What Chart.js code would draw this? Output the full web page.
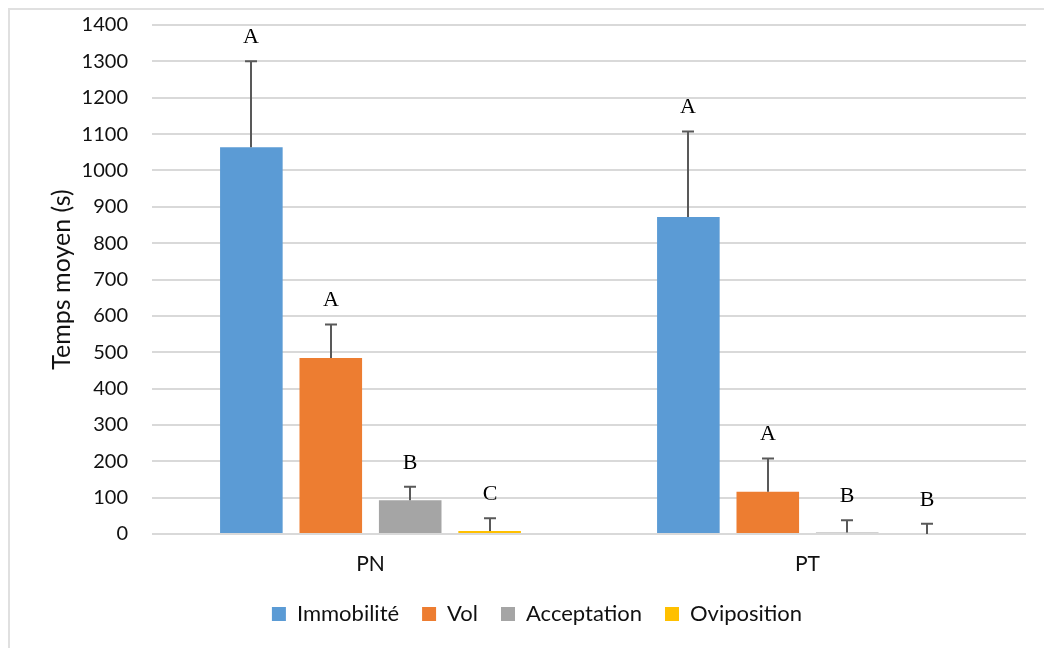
<!DOCTYPE html>
<html lang="fr">
<head>
<meta charset="utf-8">
<title>Temps moyen par comportement</title>
<script src="https://cdn.jsdelivr.net/npm/chart.js@4.4.1/dist/chart.umd.min.js"></script>
<style>
  html, body { margin: 0; padding: 0; background: #ffffff; }
  #wrap { position: relative; width: 1044px; height: 648px; }
  canvas { display: block; }
</style>
</head>
<body>
<div id="wrap"><canvas id="chart" width="1044" height="648"></canvas></div>
<script>
// Categories (plant type) and behaviours
const categories = ['PN', 'PT'];
const seriesNames = ['Immobilité', 'Vol', 'Acceptation', 'Oviposition'];
const seriesColors = ['#5B9BD5', '#ED7D31', '#A5A5A5', '#FFC000'];

// Mean time (s) per behaviour, one value per category
const immobilite = [1064, 872];
const vol = [484, 116];
const acceptation = [93, 4];
const oviposition = [8, 0];

// Upper error bar length (s)
const errImmobilite = [236, 235];
const errVol = [92, 92];
const errAcceptation = [37, 34];
const errOviposition = [35, 28];

// Significance letters above each bar
const lettersImmobilite = ['A', 'A'];
const lettersVol = ['A', 'A'];
const lettersAcceptation = ['B', 'B'];
const lettersOviposition = ['C', 'B'];

// Y axis ticks
const yMin = 0;
const yMax = 1400;
const yStep = 100;
const yTitle = 'Temps moyen (s)';

const seriesValues = [immobilite, vol, acceptation, oviposition];
const seriesErrors = [errImmobilite, errVol, errAcceptation, errOviposition];
const seriesLetters = [lettersImmobilite, lettersVol, lettersAcceptation, lettersOviposition];

const textColor = '#111111';
const baseFont = 'Lato, "Open Sans", "DejaVu Sans", sans-serif';

// Light frame along the top and left edges
const framePlugin = {
  id: 'frame',
  beforeDraw(chart) {
    const ctx = chart.ctx;
    ctx.save();
    ctx.strokeStyle = '#e0e0e0';
    ctx.lineWidth = 2;
    ctx.beginPath();
    ctx.moveTo(9, chart.height);
    ctx.lineTo(9, 9);
    ctx.lineTo(chart.width, 9);
    ctx.stroke();
    ctx.restore();
  }
};

// Upper error bars with caps, plus significance letters
const errorBarPlugin = {
  id: 'errorBars',
  afterDatasetsDraw(chart) {
    const ctx = chart.ctx;
    const yScale = chart.scales.y;
    ctx.save();
    chart.data.datasets.forEach((ds, di) => {
      const meta = chart.getDatasetMeta(di);
      meta.data.forEach((bar, i) => {
        const v = ds.data[i];
        const e = ds.errorPlus[i];
        const x = Math.round(bar.x);
        const yBase = yScale.getPixelForValue(v);
        const yTop = yScale.getPixelForValue(v + e);
        ctx.strokeStyle = '#595959';
        ctx.lineWidth = 2;
        ctx.beginPath();
        ctx.moveTo(x, yBase);
        ctx.lineTo(x, yTop);
        ctx.moveTo(x - 6, yTop);
        ctx.lineTo(x + 6, yTop);
        ctx.stroke();

        ctx.fillStyle = '#000000';
        ctx.font = '22px "Liberation Serif", "Times New Roman", serif';
        ctx.textAlign = 'center';
        ctx.textBaseline = 'middle';
        ctx.fillText(ds.letters[i], x, yTop - 24);
      });
    });
    ctx.restore();
  }
};

function drawChart() {
  const datasets = seriesNames.map((name, k) => ({
    label: name,
    data: seriesValues[k],
    errorPlus: seriesErrors[k],
    letters: seriesLetters[k],
    backgroundColor: seriesColors[k],
    borderWidth: 0,
    categoryPercentage: 0.727,
    barPercentage: 0.788
  }));

  new Chart(document.getElementById('chart'), {
    type: 'bar',
    data: { labels: categories, datasets },
    plugins: [framePlugin, errorBarPlugin],
    options: {
      responsive: false,
      animation: false,
      devicePixelRatio: 1,
      layout: { padding: { left: 48, right: 18, top: 25, bottom: 13 } },
      plugins: {
        tooltip: { enabled: false },
        legend: {
          position: 'bottom',
          labels: {
            boxWidth: 14,
            boxHeight: 14,
            padding: 23,
            color: textColor,
            font: { family: baseFont, size: 22 }
          }
        }
      },
      scales: {
        x: {
          grid: { display: false, drawTicks: false },
          border: { display: false },
          ticks: {
            color: textColor,
            padding: 18,
            font: { family: baseFont, size: 21 }
          },
          afterFit(scale) { scale.height = 46; }
        },
        y: {
          min: yMin,
          max: yMax,
          grid: { color: '#d9d9d9', lineWidth: 2, drawTicks: false },
          border: { display: false },
          ticks: {
            stepSize: yStep,
            padding: 24,
            color: textColor,
            font: { family: baseFont, size: 20 },
            callback: (v) => String(v)
          },
          title: {
            display: true,
            text: yTitle,
            color: textColor,
            padding: 0,
            font: { family: baseFont, size: 25, lineHeight: 1.1 }
          },
          afterFit(scale) {
            scale.width = 104;
            // the outer layout padding already leaves room for the end labels
            scale.paddingTop = 0;
            scale.paddingBottom = 0;
          }
        }
      }
    }
  });
}

Promise.all([
  document.fonts.load('20px Lato'),
  document.fonts.load('22px "Liberation Serif"')
]).then(drawChart, drawChart);
</script>
</body>
</html>
